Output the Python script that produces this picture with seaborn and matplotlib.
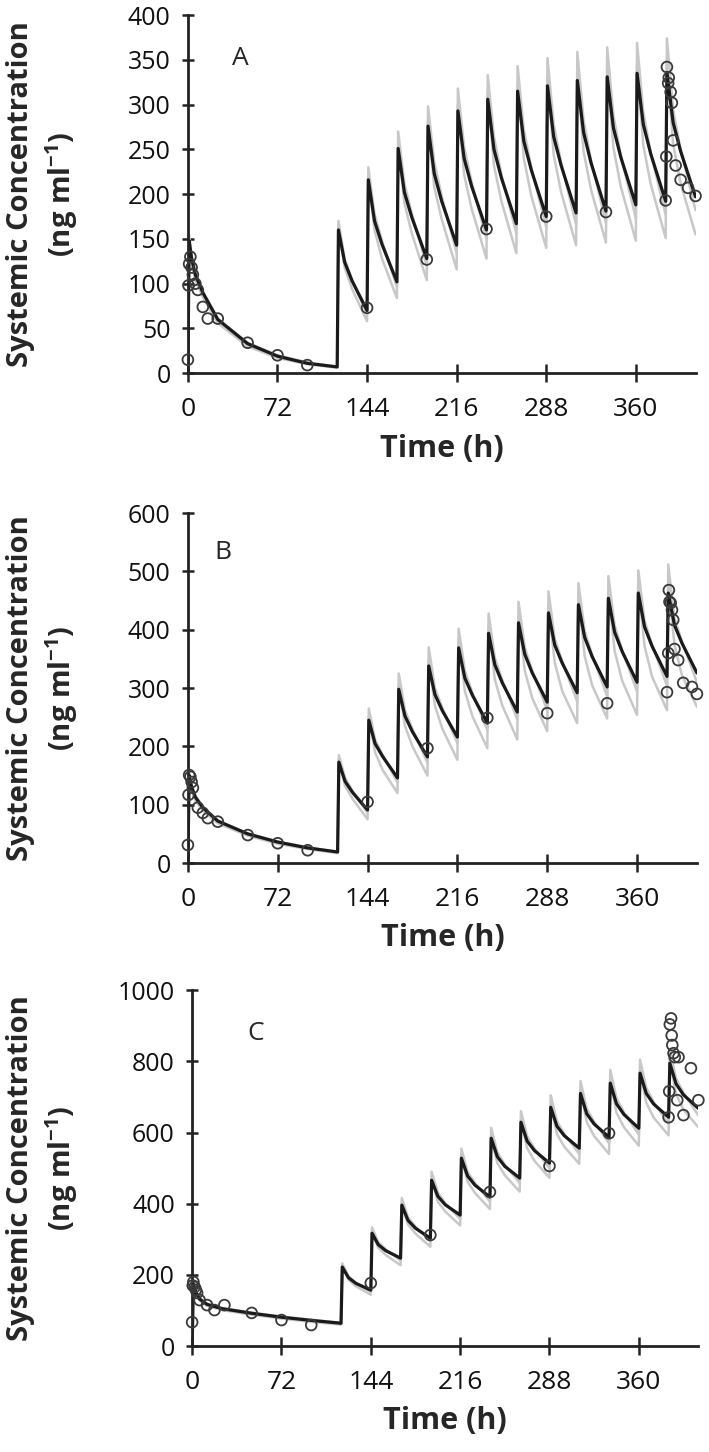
import numpy as np
import pandas as pd
import seaborn as sns
import matplotlib.pyplot as plt

# simulation time grid (h): first dose at 0, then daily doses from 120 h
t_sim = [0, 1, 3, 6, 12, 24, 48, 72, 96, 120,
         121, 126, 132, 144,
         145, 150, 156, 168,
         169, 174, 180, 192,
         193, 198, 204, 216,
         217, 222, 228, 240,
         241, 246, 252, 264,
         265, 270, 276, 288,
         289, 294, 300, 312,
         313, 318, 324, 336,
         337, 342, 348, 360,
         361, 366, 372, 384,
         385, 390, 396, 408]

# panel A
A_mean = [0, 148, 128, 110, 90, 60, 33, 19, 11, 7,
          160, 124, 103, 70, 216, 170, 144, 102, 251, 202, 174, 128,
          276, 223, 192, 143, 293, 240, 209, 160, 306, 250, 218, 167,
          315, 259, 227, 175, 321, 264, 232, 179, 327, 269, 235, 181,
          331, 274, 241, 188, 335, 278, 245, 192, 336, 280, 248, 197]
A_hi = [0, 155, 132, 112, 91, 61, 34, 20, 12, 7,
        170, 128, 104, 66, 230, 178, 148, 96, 270, 212, 178, 120,
        298, 236, 198, 134, 318, 253, 214, 150, 333, 264, 222, 156,
        343, 272, 230, 163, 352, 278, 235, 166, 359, 283, 238, 168,
        364, 288, 243, 173, 369, 292, 246, 177, 374, 294, 250, 182]
A_lo = [0, 140, 122, 104, 85, 56, 30, 17, 10, 6,
        162, 118, 94, 58, 220, 160, 128, 84, 256, 190, 156, 104,
        282, 208, 172, 116, 300, 222, 184, 128, 314, 232, 192, 134,
        323, 240, 198, 140, 330, 244, 202, 143, 336, 248, 205, 146,
        340, 252, 208, 148, 344, 255, 211, 151, 346, 256, 212, 155]
A_obs_t = [0, 0.5, 1, 2, 3, 4, 6, 8, 12, 16, 24, 48, 72, 96, 144, 192, 240, 288, 336,
           384, 384.5, 385, 386, 386.5, 388, 389, 390, 392, 396, 402, 408]
A_obs_c = [15, 98, 122, 130, 118, 110, 100, 93, 74, 61, 61, 34, 20, 9, 73, 127, 161, 175, 180,
           193, 242, 342, 324, 330, 314, 302, 260, 232, 216, 207, 198]

# panel B
B_mean = [0, 150, 130, 113, 95, 72, 50, 36, 26, 19,
          173, 140, 121, 91, 245, 205, 183, 146, 298, 252, 225, 182,
          338, 289, 261, 216, 369, 317, 288, 240, 394, 340, 309, 259,
          412, 358, 326, 276, 429, 374, 343, 292, 443, 387, 354, 302,
          454, 396, 363, 310, 463, 405, 372, 320, 463, 408, 377, 326]
B_hi = [0, 158, 134, 116, 97, 73, 51, 37, 27, 19,
        185, 146, 124, 86, 265, 212, 186, 138, 325, 262, 230, 172,
        370, 300, 266, 205, 402, 330, 292, 228, 428, 352, 314, 246,
        448, 370, 330, 262, 466, 385, 346, 277, 480, 398, 357, 286,
        492, 408, 366, 294, 502, 416, 374, 304, 512, 420, 380, 310]
B_lo = [0, 142, 124, 107, 90, 68, 47, 33, 24, 17,
        178, 132, 110, 75, 252, 190, 160, 120, 307, 235, 200, 150,
        348, 270, 230, 177, 380, 295, 252, 197, 406, 315, 270, 212,
        424, 330, 283, 226, 442, 344, 295, 240, 456, 355, 305, 248,
        468, 364, 313, 254, 477, 372, 320, 262, 478, 374, 322, 268]
B_obs_t = [0, 0.5, 1, 2, 3, 4, 8, 12, 16, 24, 48, 72, 96, 144, 192, 240, 288, 336,
           384, 385, 385.5, 386, 387, 388, 389, 390, 393, 397, 404, 408]
B_obs_c = [31, 117, 151, 148, 139, 129, 95, 86, 77, 71, 48, 34, 22, 105, 197, 249, 257, 274,
           293, 360, 468, 448, 446, 434, 417, 367, 348, 309, 302, 290]

# panel C
C_mean = [0, 175, 150, 132, 117, 105, 92, 81, 72, 64,
          222, 192, 176, 157, 317, 285, 268, 247, 396, 353, 331, 303,
          466, 421, 397, 368, 528, 478, 452, 419, 584, 532, 505, 472,
          629, 576, 549, 514, 671, 618, 591, 556, 710, 653, 624, 587,
          739, 681, 651, 612, 767, 710, 680, 643, 795, 737, 706, 668]
C_hi = [0, 182, 154, 135, 119, 107, 94, 83, 74, 65,
        232, 196, 178, 152, 333, 292, 272, 240, 416, 362, 336, 294,
        490, 432, 402, 357, 555, 490, 458, 406, 613, 545, 510, 458,
        660, 590, 555, 499, 705, 632, 596, 540, 745, 668, 630, 570,
        776, 697, 657, 594, 805, 726, 686, 624, 835, 752, 712, 648]
C_lo = [0, 170, 145, 128, 113, 101, 88, 77, 68, 60,
        224, 186, 168, 144, 320, 276, 256, 227, 400, 342, 316, 279,
        470, 406, 378, 339, 533, 462, 430, 385, 590, 514, 480, 434,
        635, 556, 520, 473, 678, 596, 560, 512, 717, 630, 590, 540,
        746, 656, 615, 563, 775, 684, 642, 592, 803, 708, 664, 615]
C_obs_t = [0, 0.5, 1, 2, 3, 4, 6, 12, 18, 26, 48, 72, 96, 144, 192, 240, 288, 336,
           384, 384.5, 385, 386, 386.5, 387, 388, 389, 391, 392, 396, 402, 408]
C_obs_c = [67, 170, 180, 166, 158, 149, 129, 115, 101, 115, 93, 73, 59, 177, 312, 433, 506, 598,
           643, 716, 904, 921, 873, 846, 823, 812, 691, 812, 649, 781, 691]

x_ticks = [0, 72, 144, 216, 288, 360]

sns.set_style("ticks")
plt.rcParams['font.family'] = ['Open Sans', 'DejaVu Sans']
plt.rcParams['mathtext.fontset'] = 'custom'
plt.rcParams['mathtext.rm'] = 'Open Sans'
plt.rcParams['mathtext.bf'] = 'Open Sans:bold'

fig = plt.figure(figsize=(7.09, 14.52), dpi=100)

# axes boxes in figure fraction (left, bottom, width, height)
boxes = [(0.265, 0.743, 0.716, 0.2466),
         (0.265, 0.4056, 0.718, 0.241),
         (0.271, 0.073, 0.714, 0.245)]
panels = [("A", A_mean, A_hi, A_lo, A_obs_t, A_obs_c, 400, 50, (42, 352)),
          ("B", B_mean, B_hi, B_lo, B_obs_t, B_obs_c, 600, 100, (28, 533)),
          ("C", C_mean, C_hi, C_lo, C_obs_t, C_obs_c, 1000, 200, (51, 879))]

for box, (letter, mean, hi, lo, ot, oc, ymax, ystep, lpos) in zip(boxes, panels):
    ax = fig.add_axes(box)
    sim = pd.DataFrame({"t": t_sim, "mean": mean, "hi": hi, "lo": lo})
    obs = pd.DataFrame({"t": ot, "c": oc})
    for col in ["hi", "lo"]:
        sns.lineplot(data=sim, x="t", y=col, ax=ax, color="#c8c8c8", lw=1.8,
                     estimator=None, sort=False)
    sns.lineplot(data=sim, x="t", y="mean", ax=ax, color="#1a1a1a", lw=2.3,
                 estimator=None, sort=False)
    sns.scatterplot(data=obs, x="t", y="c", ax=ax, marker="o", s=60,
                    facecolor="none", edgecolor="#3a3a3a", linewidth=1.3,
                    clip_on=False, zorder=5)
    ax.set_xlim(0, 408)
    ax.set_ylim(0, ymax)
    ax.set_xticks(x_ticks)
    ax.set_yticks(np.arange(0, ymax + 1, ystep))
    ax.tick_params(direction="inout", width=1.8, color="#222222", labelcolor="#111111")
    ax.tick_params(axis="y", labelsize=18, pad=8, length=9)
    ax.tick_params(axis="x", labelsize=19, pad=11, length=13)
    for s in ["left", "bottom"]:
        ax.spines[s].set_linewidth(2)
        ax.spines[s].set_color("#222222")
    sns.despine(ax=ax)
    ax.set_ylabel("")
    ax.set_xlabel("Time (h)", fontsize=22, fontweight="bold", labelpad=8)
    ax.text(lpos[0], lpos[1], letter, fontsize=19, ha="center", va="center")
    # two line y label
    pos = ax.get_position()
    fig.text(0.061, pos.y0 + pos.height / 2,
             "Systemic Concentration\n(ng ml$^{\\mathbf{-1}}$)",
             rotation=90, ha="center", va="center", fontsize=21,
             fontweight="bold", linespacing=1.3)

fig.savefig("out.png", dpi=100)
